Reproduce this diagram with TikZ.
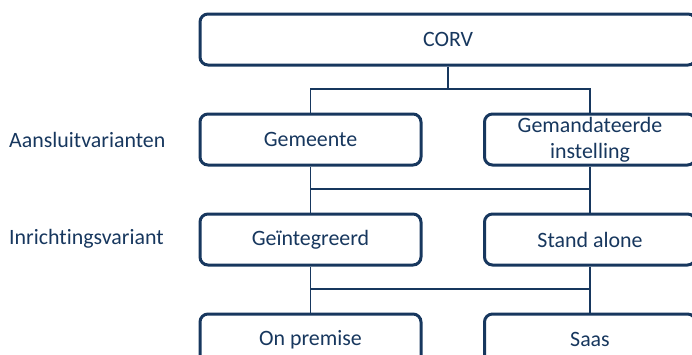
\documentclass[tikz,border=0pt]{standalone}
\usepackage{fontspec}
\setmainfont[Ligatures={NoCommon},Contextuals={NoAlternate}]{Carlito}
\definecolor{navy}{HTML}{17375E}
\begin{document}
\begin{tikzpicture}[x=1pt,y=-1pt,
  box/.style={draw=navy,line width=3pt,rounded corners=8pt,fill=white,text=navy,align=center,inner sep=0pt,font=\fontsize{21.9}{26}\selectfont},
  lab/.style={text=navy,anchor=west,inner sep=0pt,font=\fontsize{21.9}{26}\selectfont},
  conn/.style={draw=navy,line width=1.5pt}]
\useasboundingbox (0,0) rectangle (692,354);
\node[box,minimum width=496pt,minimum height=51pt] (corv) at (448,39.5) {CORV};
\node[box,minimum width=221pt,minimum height=51pt] (gem) at (310.5,139.5) {Gemeente};
\node[box,minimum width=211pt,minimum height=51pt] (gman) at (590,139.5) {Gemandateerde\\instelling};
\node[box,minimum width=221pt,minimum height=51pt] (geint) at (310.5,239.5) {Geïntegreerd};
\node[box,minimum width=211pt,minimum height=51pt] (stand) at (590,239.5) {Stand alone};
\node[box,minimum width=221pt,minimum height=51pt] (onp) at (310.5,339.5) {On premise};
\node[box,minimum width=211pt,minimum height=51pt] (saas) at (590,339.5) {Saas};
\node[lab] (l1) at (9,140) {Aansluitvarianten};
\node[lab] (l2) at (9,239) {Inrichtingsvariant};
\coordinate (j1) at (448,89);
\coordinate (j2) at (448,189);
\coordinate (j3) at (448,289);
\draw[conn] (corv.south) -- (j1);
\draw[conn] (gem.north) |- (j1) -| (gman.north);
\draw[conn] (gem.south) -- (geint.north);
\draw[conn] (gman.south) -- (stand.north);
\draw[conn] (gem.south |- j2) -- (gman.south |- j2);
\draw[conn] (geint.south) -- (onp.north);
\draw[conn] (stand.south) -- (saas.north);
\draw[conn] (geint.south |- j3) -- (stand.south |- j3);
\end{tikzpicture}
\end{document}
